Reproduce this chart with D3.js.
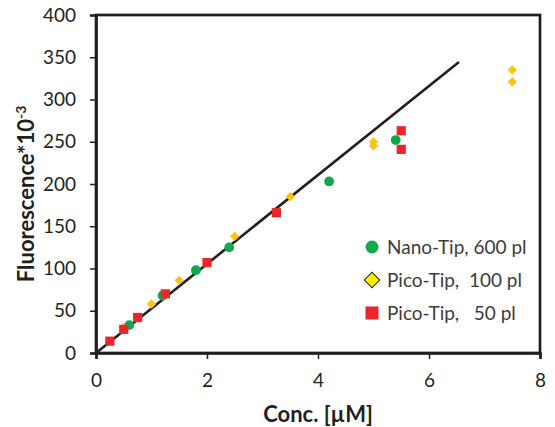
<!DOCTYPE html>
<html>
<head>
<meta charset="utf-8">
<script src="https://cdn.jsdelivr.net/npm/d3@7"></script>
<style>
  body { margin: 0; background: #fff; }
  text { font-family: Lato, "Open Sans", sans-serif; fill: #231f20; }
  .tick text { font-size: 19px; }
  .axis-title { font-size: 22px; font-weight: bold; }
  .legend text { font-size: 19px; fill: #3c3c3c; white-space: pre; }
</style>
</head>
<body>
<div id="chart"></div>
<script>
const WIDTH = 555;
const HEIGHT = 427;
const MARGIN = { top: 15, right: 15, bottom: 74, left: 96 };

// Nano-Tip, 600 pl
const nanoX = [0.6, 1.2, 1.8, 2.4, 4.2, 5.4];
const nanoY = [33, 68, 98, 125, 203, 252];

// Pico-Tip, 100 pl
const pico100X = [0.5, 1.0, 1.5, 2.5, 3.5, 5.0, 5.0, 7.5, 7.5];
const pico100Y = [30, 58, 86, 138, 185, 245, 250, 321, 335];

// Pico-Tip, 50 pl
const pico50X = [0.25, 0.5, 0.75, 1.25, 2.0, 3.25, 5.5, 5.5];
const pico50Y = [14, 28, 42, 70, 107, 166, 241, 263];

// fitted line
const fitX = [0, 6.54];
const fitY = [0, 344.5];

const xTicks = [0, 2, 4, 6, 8];
const yTicks = [0, 50, 100, 150, 200, 250, 300, 350, 400];

const legendLabels = ["Nano-Tip, 600 pl", "Pico-Tip,  100 pl", "Pico-Tip,   50 pl"];

const COLORS = { green: "#12a84f", yellow: "#fcc314", red: "#e8272b", legendYellow: "#ffee00", ink: "#231f20" };

const zip = (xs, ys) => xs.map((x, i) => ({ x, y: ys[i] }));

const svg = d3.select("#chart").append("svg").attr("width", WIDTH).attr("height", HEIGHT);

const x = d3.scaleLinear().domain([0, 8]).range([MARGIN.left, WIDTH - MARGIN.right]);
const y = d3.scaleLinear().domain([0, 400]).range([HEIGHT - MARGIN.bottom, MARGIN.top]);

// frame (top and right)
svg.append("rect")
  .attr("x", x(0)).attr("y", y(400))
  .attr("width", x(8) - x(0)).attr("height", y(0) - y(400))
  .attr("fill", "none").attr("stroke", COLORS.ink).attr("stroke-width", 2.7);

const xAxis = svg.append("g")
  .attr("transform", `translate(0,${y(0)})`)
  .call(d3.axisBottom(x).tickValues(xTicks).tickSize(6).tickPadding(15).tickFormat(d3.format("d")));
const yAxis = svg.append("g")
  .attr("transform", `translate(${x(0)},0)`)
  .call(d3.axisLeft(y).tickValues(yTicks).tickSize(6).tickPadding(14));

[xAxis, yAxis].forEach((g) => {
  g.select(".domain").attr("stroke", COLORS.ink).attr("stroke-width", 2.7);
  g.selectAll(".tick line").attr("stroke", COLORS.ink).attr("stroke-width", 1.5);
  g.selectAll(".tick text").attr("fill", COLORS.ink);
  g.attr("font-family", null).attr("font-size", null);
});

// fit line
svg.append("path")
  .datum(zip(fitX, fitY))
  .attr("fill", "none")
  .attr("stroke", COLORS.ink)
  .attr("stroke-width", 2.6)
  .attr("d", d3.line().x((d) => x(d.x)).y((d) => y(d.y)));

// Pico-Tip 100 pl diamonds
svg.append("g").selectAll("path")
  .data(zip(pico100X, pico100Y))
  .join("path")
  .attr("transform", (d) => `translate(${x(d.x)},${y(d.y)}) rotate(45)`)
  .attr("d", "M-3.3,-3.3H3.3V3.3H-3.3Z")
  .attr("fill", COLORS.yellow);

// Nano-Tip circles
svg.append("g").selectAll("circle")
  .data(zip(nanoX, nanoY))
  .join("circle")
  .attr("cx", (d) => x(d.x))
  .attr("cy", (d) => y(d.y))
  .attr("r", 4.9)
  .attr("fill", COLORS.green);

// Pico-Tip 50 pl squares
svg.append("g").selectAll("rect")
  .data(zip(pico50X, pico50Y))
  .join("rect")
  .attr("x", (d) => x(d.x) - 4.6)
  .attr("y", (d) => y(d.y) - 4.6)
  .attr("width", 9.2)
  .attr("height", 9.2)
  .attr("fill", COLORS.red);

// axis titles
svg.append("text")
  .attr("class", "axis-title")
  .attr("x", (x(0) + x(8)) / 2)
  .attr("y", 422)
  .attr("text-anchor", "middle")
  .text("Conc. [µM]");

const yTitle = svg.append("text")
  .attr("class", "axis-title")
  .attr("transform", `translate(34,194) rotate(-90)`)
  .attr("text-anchor", "middle");
yTitle.append("tspan").text("Fluorescence*10");
yTitle.append("tspan").attr("dy", -8).attr("font-size", 14).text("-3");

// legend
const legend = svg.append("g").attr("class", "legend").attr("transform", "translate(372,247)");
const rowGap = 33;
legend.append("circle").attr("cx", 0).attr("cy", 0).attr("r", 6.5).attr("fill", COLORS.green);
legend.append("path")
  .attr("transform", `translate(0,${rowGap}) rotate(45)`)
  .attr("d", "M-5.5,-5.5H5.5V5.5H-5.5Z")
  .attr("fill", COLORS.legendYellow)
  .attr("stroke", COLORS.ink)
  .attr("stroke-width", 1);
legend.append("rect")
  .attr("x", -6.5).attr("y", rowGap * 2 - 6.5)
  .attr("width", 13).attr("height", 13)
  .attr("fill", COLORS.red);
legend.selectAll("text")
  .data(legendLabels)
  .join("text")
  .attr("x", 15)
  .attr("y", (d, i) => i * rowGap)
  .attr("dy", "0.36em")
  .attr("xml:space", "preserve")
  .text((d) => d);
</script>
</body>
</html>
